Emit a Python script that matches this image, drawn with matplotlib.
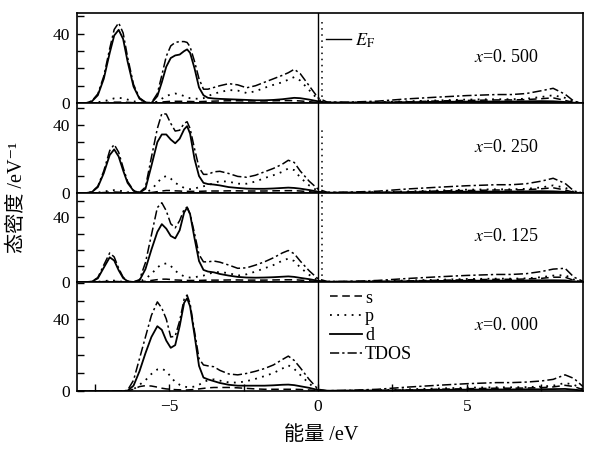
import matplotlib
matplotlib.use('Agg')
import matplotlib.pyplot as plt
from matplotlib.lines import Line2D
from matplotlib.ticker import MultipleLocator

plt.rcParams['font.family'] = ['Liberation Serif', 'Noto Sans CJK SC', 'DejaVu Sans']
plt.rcParams['mathtext.fontset'] = 'stix'

# energy grid (eV), shared by every panel
energy = ([-8.1, -7.8, -7.6, -7.4, -7.2, -7.0, -6.85, -6.7, -6.55, -6.4, -6.2, -6.0, -5.8]
          + [-5.6, -5.4, -5.25, -5.1, -4.95, -4.8, -4.65, -4.5, -4.4, -4.3, -4.15, -4.0, -3.85, -3.7, -3.5]
          + [-3.3, -3.0, -2.7, -2.4, -2.1, -1.8, -1.5, -1.2, -1.0, -0.8, -0.6, -0.3, 0.0, 0.3]
          + [1.0, 2.0, 3.0, 4.0, 5.0, 6.0, 6.5, 7.0, 7.5, 7.9, 8.3, 8.6, 8.9])

# x = 0.500
s_500 = ([0, 0, 0, 0.1, 0.2, 0.4, 0.5, 0.5, 0.5, 0.4, 0.2, 0.1, 0]
         + [0, 0.3, 0.6, 0.8, 1, 1, 1, 1, 0.9, 0.9, 0.8, 0.8, 0.9, 1, 1.1]
         + [1.2, 1.3, 1.3, 1.2, 1.2, 1.2, 1.3, 1.4, 1.4, 1.4, 1.2, 0.8, 0.3, 0]
         + [0, 0.3, 0.7, 1.2, 1.5, 1.8, 1.8, 2, 2.5, 3, 1.5, 0.3, 0])
p_500 = ([0, 0, 0.2, 0.5, 1, 2, 2.7, 3, 2.7, 2, 1, 0.4, 0.1]
         + [0.1, 0.8, 2.5, 4, 5, 5.5, 5, 4, 3.2, 2.8, 2.5, 2.5, 2.8, 4, 5.4]
         + [6.3, 7.5, 7.2, 5.8, 6.8, 8.8, 10.5, 12, 13.5, 15, 13, 7.5, 2, 0.3]
         + [0.2, 0.5, 1, 1.5, 2, 2.2, 2.2, 2.5, 3.5, 4.5, 3, 0.5, 0])
d_500 = ([0, 0, 1.0, 4.5, 14, 29, 39, 42.3, 37, 24, 9.5, 2.5, 0.4]
         + [0, 4, 12, 21, 26, 27.5, 28, 30, 31, 29, 20, 9, 4.5, 3, 2.6]
         + [2.4, 2.2, 2, 1.8, 1.6, 1.6, 1.8, 2.2, 2.6, 3, 2.8, 2, 1, 0.3]
         + [0.3, 0.3, 0.5, 0.7, 0.8, 0.9, 0.9, 1.0, 1.1, 1.0, 0.6, 0.2, 0])
tdos_500 = ([0, 0, 1.2, 5.3, 15.5, 31.5, 42.5, 46.3, 40.5, 26.5, 10.7, 3, 0.5]
            + [0.1, 5.5, 16, 27, 33, 35, 35.5, 35.5, 35, 32.5, 24, 14, 8, 8, 9]
            + [10, 11.2, 10.5, 8.8, 10, 12, 14, 16, 17.5, 19.5, 17, 10, 3, 0.6]
            + [0.5, 1.1, 2.4, 3.4, 4.3, 4.9, 4.9, 5.5, 7.1, 8.5, 5.1, 1, 0])

# x = 0.250
s_250 = ([0, 0, 0, 0.1, 0.3, 0.5, 0.6, 0.5, 0.4, 0.2, 0.1, 0, 0.1]
         + [0.3, 0.8, 1.2, 1.5, 1.5, 1.3, 1.2, 1.0, 1.0, 1.0, 1.0, 1.0, 1.1, 1.2, 1.2]
         + [1.2, 1.3, 1.3, 1.2, 1.2, 1.2, 1.3, 1.4, 1.4, 1.4, 1.2, 0.8, 0.3, 0]
         + [0, 0.3, 0.7, 1.2, 1.5, 1.8, 1.8, 2, 2.5, 3.1, 1.8, 0.4, 0])
p_250 = ([0, 0, 0.1, 0.3, 0.8, 1.5, 1.7, 1.5, 1.0, 0.5, 0.2, 0, 0.3]
         + [2, 6, 9, 10, 8.5, 6, 4.5, 3, 2.5, 2.3, 2.5, 3.5, 4, 4.5, 6]
         + [7, 6.7, 5.5, 5.5, 6.8, 8.8, 10.5, 12.5, 14.5, 13.5, 9.2, 4.5, 1.2, 0.2]
         + [0.2, 0.5, 1, 1.5, 2, 2.2, 2.2, 2.5, 3.3, 4.5, 3.2, 0.6, 0])
d_250 = ([0, 0, 0.6, 3.5, 11.7, 22.4, 25.7, 21.5, 13.3, 6, 1.3, 0.2, 2.5]
         + [16, 30, 34.5, 34.5, 31.5, 29.3, 32, 37.5, 39.4, 35, 20, 10, 6, 5.3, 5]
         + [4.5, 3.5, 3, 2.6, 2.5, 2.5, 2.7, 3, 3.2, 3, 2.6, 1.8, 0.8, 0.2]
         + [0.3, 0.3, 0.5, 0.7, 0.8, 0.9, 0.9, 1.0, 1.1, 1.0, 0.7, 0.2, 0])
tdos_250 = ([0, 0, 0.7, 4, 13, 25, 28.6, 24, 15, 6.8, 1.6, 0.3, 3.5]
            + [21, 38, 46.8, 46.5, 41, 36.5, 37, 41, 42, 38, 26, 15, 11, 11, 12.5]
            + [12.8, 11.5, 9.8, 9.3, 10.5, 12.5, 14.5, 17, 19.3, 18, 13, 7, 2.3, 0.5]
            + [0.5, 1.1, 2.4, 3.4, 4.3, 4.9, 4.9, 5.5, 7, 8.7, 5.7, 1.2, 0])

# x = 0.125
s_125 = ([0, 0, 0, 0.1, 0.3, 0.4, 0.4, 0.3, 0.1, 0, 0, 0.1, 0.5]
         + [1, 1.5, 1.8, 1.8, 1.6, 1.3, 1.2, 1.0, 1.0, 1.0, 1.0, 1.0, 1.1, 1.2, 1.2]
         + [1.2, 1.3, 1.3, 1.2, 1.2, 1.2, 1.3, 1.4, 1.4, 1.4, 1.2, 0.8, 0.3, 0]
         + [0, 0.3, 0.7, 1.1, 1.4, 1.7, 1.7, 1.9, 2.3, 3, 3, 1, 0.2])
p_125 = ([0, 0, 0, 0.2, 0.6, 1, 0.9, 0.5, 0.2, 0, 0, 0.3, 2]
         + [5, 9, 11, 11.5, 10, 7, 5, 3.5, 3, 2.8, 3, 3.5, 4, 5, 6]
         + [6.2, 5.5, 4, 4.8, 6.5, 8.5, 10.5, 13.2, 14.5, 13, 9, 4.5, 1, 0.2]
         + [0.2, 0.5, 1, 1.4, 1.9, 2.1, 2.1, 2.3, 3, 4, 4.3, 1.5, 0.2])
d_125 = ([0, 0, 0.3, 2.3, 8.9, 15.3, 13.3, 7.3, 2.5, 0.5, 0, 1, 8]
         + [20, 31, 35.8, 33, 28.5, 27, 32, 43, 46, 42, 27, 13, 7.5, 6.5, 6]
         + [5, 4, 3.2, 2.8, 2.7, 2.8, 3, 3.3, 3.5, 3.2, 2.6, 1.8, 0.8, 0.2]
         + [0.3, 0.3, 0.5, 0.7, 0.8, 0.9, 0.9, 1.0, 1.1, 1.1, 1.0, 0.4, 0.1])
tdos_125 = ([0, 0, 0.3, 2.8, 10.5, 18, 15.5, 8.5, 3, 0.6, 0.1, 1.5, 12]
            + [29, 46, 49, 44, 36, 33.5, 38, 45, 46.3, 42, 30, 17, 12.5, 12.5, 13]
            + [12.3, 10.5, 8.5, 8.8, 10.5, 12.5, 15, 18, 19.5, 17.5, 13, 7, 2, 0.4]
            + [0.4, 1, 2.2, 3.2, 4.1, 4.7, 4.7, 5.2, 6.5, 8, 8.5, 3, 0.5])

# x = 0.000
s_000 = ([0, 0, 0, 0, 0, 0, 0, 0, 0, 0.1, 1, 2.5, 3]
         + [2.8, 2.2, 1.6, 1.2, 1.0, 0.8, 0.7, 0.6, 0.6, 0.7, 0.9, 1.2, 1.5, 1.8, 2]
         + [2, 2, 1.8, 1.5, 1.2, 1.0, 1.0, 1.0, 1.0, 1.0, 0.9, 0.6, 0.2, 0]
         + [0, 0.3, 0.6, 1, 1.3, 1.6, 1.6, 1.7, 1.9, 2.3, 3.2, 2.5, 0.8])
p_000 = ([0, 0, 0, 0, 0, 0, 0, 0, 0, 0.1, 1, 3.5, 6]
         + [9.5, 12, 12.5, 11, 8, 5, 3.5, 2.5, 2.2, 2.2, 2.5, 3.5, 5, 6, 6.5]
         + [5.8, 4.8, 4.7, 5.5, 6.8, 8.3, 10, 12.5, 14.3, 12.3, 9, 4.2, 0.4, 0]
         + [0.2, 0.5, 1, 1.4, 1.9, 2.1, 2.1, 2.2, 2.5, 3, 4.5, 3.5, 1])
d_000 = ([0, 0, 0, 0, 0, 0, 0, 0, 0, 0.2, 3, 11, 21]
         + [30, 36, 34, 28, 24, 25.5, 36, 49, 51.5, 47, 31, 14, 7.5, 6.5, 5.5]
         + [4.5, 3.5, 3, 3, 3, 3, 3.2, 3.5, 3.6, 3.3, 2.7, 1.8, 0.6, 0.2]
         + [0.3, 0.3, 0.5, 0.7, 0.8, 0.9, 0.9, 1.0, 1.0, 1.1, 1.2, 0.8, 0.3])
tdos_000 = ([0, 0, 0, 0, 0, 0, 0, 0, 0, 0.5, 6, 18, 30]
            + [42, 49.5, 46, 40, 30, 30.5, 39, 51, 53.3, 48.5, 33, 18, 14.5, 14, 13.5]
            + [11.5, 9.5, 9, 9.8, 11, 12.5, 14.5, 17.5, 19.4, 17, 13, 6.5, 1, 0.2]
            + [0.4, 1, 2.2, 3.2, 4.1, 4.7, 4.7, 5, 5.6, 6.5, 9, 7, 2.5])

panel_labels = ['0. 500', '0. 250', '0. 125', '0. 000']
s_all = [s_500, s_250, s_125, s_000]
p_all = [p_500, p_250, p_125, p_000]
d_all = [d_500, d_250, d_125, d_000]
tdos_all = [tdos_500, tdos_250, tdos_125, tdos_000]
ymax = [52, 53, 55, 60.5]

# dotted marker just above the Fermi level (top three panels)
ef_dot_x = 0.13
ef_dot_top = [48, 37, 55]

ls_s = (0, (5, 3))
ls_p = (0, (1, 3))
ls_tdos = (0, (6, 2, 1.5, 2))

fig, axes = plt.subplots(4, 1, figsize=(5.9, 4.49), dpi=100, sharex=True,
                         gridspec_kw=dict(height_ratios=[90, 90, 89, 109], hspace=0))
fig.subplots_adjust(left=0.1305, right=0.988, top=0.971, bottom=0.129)

for i, ax in enumerate(axes):
    ax.plot(energy, s_all[i], color='k', ls=ls_s, lw=1.1)
    ax.plot(energy, p_all[i], color='k', ls=ls_p, lw=1.3)
    ax.plot(energy, d_all[i], color='k', ls='-', lw=1.3)
    ax.plot(energy, tdos_all[i], color='k', ls=ls_tdos, lw=1.1)
    ax.axvline(0, color='k', lw=1.0)
    if i < 3:
        ax.vlines(ef_dot_x, 0, ef_dot_top[i], colors='k', linestyles=ls_p, lw=1.1)

    ax.set_xlim(-8.1, 8.9)
    ax.set_ylim(0, ymax[i])
    ax.set_yticks([0, 40])
    ax.yaxis.set_minor_locator(MultipleLocator(10))
    ax.tick_params(axis='y', which='both', direction='in', length=5, width=1,
                   labelsize=12.5, pad=5)
    ax.tick_params(axis='x', which='both', direction='in', length=5, width=1,
                   labelsize=12.5, pad=6, bottom=(i == 3))
    for sp in ax.spines.values():
        sp.set_linewidth(1.2)

    ax.text(0.785, 0.6 if i == 3 else 0.51, '$x$=' + panel_labels[i],
            transform=ax.transAxes, fontsize=13, ha='left', va='center')

axes[-1].set_xticks([-5, 0, 5])
axes[-1].xaxis.set_minor_locator(MultipleLocator(2.5))

# E_F key in the top panel
axes[0].legend(handles=[Line2D([], [], color='k', lw=1.0)], labels=[r'$E_{\rm F}$'],
               loc='center left', bbox_to_anchor=(0.492, 0.69), frameon=False,
               fontsize=13, handlelength=1.4, handletextpad=0.2,
               borderpad=0, borderaxespad=0)

# orbital key in the bottom panel
handles = [Line2D([], [], color='k', ls=ls_s, lw=1.1),
           Line2D([], [], color='k', ls=ls_p, lw=1.3),
           Line2D([], [], color='k', ls='-', lw=1.3),
           Line2D([], [], color='k', ls=ls_tdos, lw=1.1)]
axes[-1].legend(handles=handles, labels=['s', 'p', 'd', 'TDOS'],
                loc='upper left', bbox_to_anchor=(0.5, 0.93), frameon=False,
                fontsize=13, handlelength=1.8, handletextpad=0.15,
                labelspacing=0.1, borderpad=0, borderaxespad=0)

fig.text(0.03, 0.561, '态密度 /eV⁻¹', rotation=90, ha='center', va='center', fontsize=14.5)
fig.text(0.544, 0.029, '能量 /eV', ha='center', va='center', fontsize=14.5)

fig.savefig('out.png', dpi=100)
